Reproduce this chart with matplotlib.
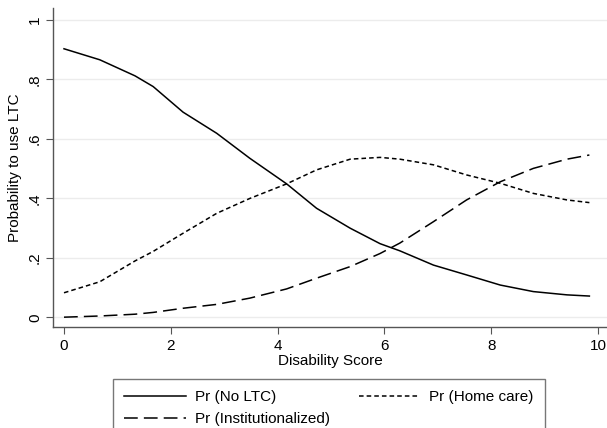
import matplotlib
matplotlib.use("Agg")
import matplotlib.pyplot as plt

# predicted probabilities by disability score
score = [0, 0.67, 1.33, 1.67, 2.23, 2.86, 3.48, 4.17, 4.73, 5.36, 5.92, 6.29,
         6.92, 7.54, 8.17, 8.79, 9.42, 9.84]
no_ltc = [0.903, 0.866, 0.812, 0.776, 0.69, 0.619, 0.535, 0.449, 0.367, 0.30, 0.248, 0.224,
          0.176, 0.143, 0.109, 0.087, 0.076, 0.072]
home_care = [0.083, 0.12, 0.19, 0.222, 0.283, 0.35, 0.40, 0.449, 0.496, 0.532, 0.538, 0.532,
             0.513, 0.479, 0.451, 0.417, 0.395, 0.386]
institution = [0.001, 0.005, 0.011, 0.017, 0.031, 0.044, 0.065, 0.096, 0.132, 0.171, 0.215, 0.25,
               0.322, 0.395, 0.456, 0.501, 0.532, 0.546]

xticks = [0, 2, 4, 6, 8, 10]
yticks = [0, 0.2, 0.4, 0.6, 0.8, 1.0]
ylabels = ["0", ".2", ".4", ".6", ".8", "1"]

plt.rcParams["font.family"] = ["Liberation Sans", "DejaVu Sans"]

fig = plt.figure(figsize=(6.07, 4.28), dpi=100)
ax = fig.add_axes([53 / 607, 1 - 327 / 428, 1 - 53 / 607, (327 - 8) / 428])

l1, = ax.plot(score, no_ltc, color="black", lw=1.1, ls="-", label="Pr (No LTC)")
l2, = ax.plot(score, home_care, color="black", lw=1.1, ls=(0, (3, 2)), label="Pr (Home care)")
l3, = ax.plot(score, institution, color="black", lw=1.1, ls=(0, (9, 4)), label="Pr (Institutionalized)")

ax.set_xlim(-0.206, 10.17)
ax.set_ylim(-0.032, 1.04)
ax.set_xticks(xticks)
ax.set_yticks(yticks)
ax.set_yticklabels(ylabels, rotation=90, va="center")

ax.grid(axis="y", color="#ececec", lw=1)
ax.set_axisbelow(True)
for s in ["top", "right"]:
    ax.spines[s].set_visible(False)
for s in ["left", "bottom"]:
    ax.spines[s].set_color("#555555")
    ax.spines[s].set_linewidth(1)
ax.tick_params(axis="both", colors="#555555", labelcolor="black", labelsize=11, length=5)
ax.tick_params(axis="x", pad=4)
ax.tick_params(axis="y", pad=3)

ax.set_xlabel("Disability Score", fontsize=11, labelpad=0)
ax.set_ylabel("Probability to use LTC", fontsize=11, labelpad=4)

# legend: row 1 = No LTC, Home care; row 2 = Institutionalized
leg = fig.legend([l1, l3, l2], [l1.get_label(), l3.get_label(), l2.get_label()],
                 loc="upper left", bbox_to_anchor=(113 / 607, 1 - 379 / 428), ncol=2,
                 fontsize=11, frameon=True, fancybox=False, handlelength=4.0,
                 columnspacing=1.9, borderpad=0.75, labelspacing=0.5, handletextpad=0.6,
                 borderaxespad=0)
leg.get_frame().set_edgecolor("#555555")
leg.get_frame().set_linewidth(1)

fig.savefig("out.png", dpi=100)
